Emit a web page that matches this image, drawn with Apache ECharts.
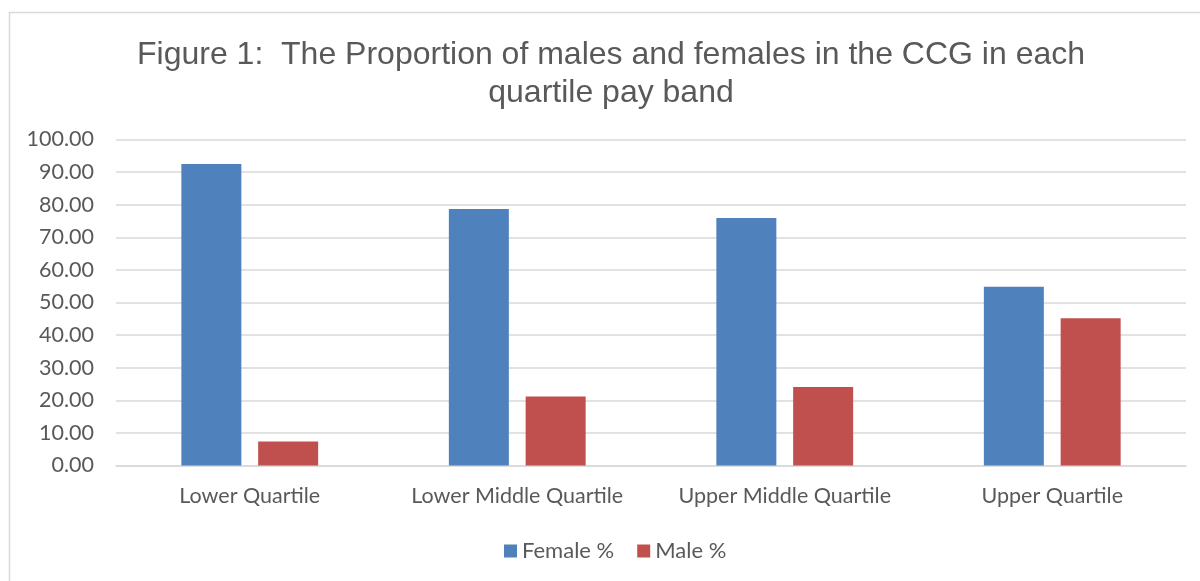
<!DOCTYPE html>
<html>
<head>
<meta charset="utf-8">
<script src="https://cdn.jsdelivr.net/npm/echarts@6/dist/echarts.min.js"></script>
<style>
  html, body { margin: 0; padding: 0; background: #fff; }
  #chart { width: 1200px; height: 581px; }
</style>
</head>
<body>
<div id="chart"></div>
<script>
const categories = ['Lower Quartile', 'Lower Middle Quartile', 'Upper Middle Quartile', 'Upper Quartile'];
const femaleValues = [92.5, 78.7, 75.9, 54.8];
const maleValues = [7.4, 21.2, 24.1, 45.2];
const yTicks = { min: 0, max: 100, interval: 10 };

const chart = echarts.init(document.getElementById('chart'));

const option = {
  backgroundColor: '#ffffff',
  animation: false,
  graphic: [
    {
      type: 'rect',
      shape: { x: 9.5, y: 12.5, width: 1200, height: 600 },
      style: { fill: 'none', stroke: '#d9d9d9', lineWidth: 1.5 },
      silent: true,
    },
  ],
  title: {
    text: 'Figure 1:  The Proportion of males and females in the CCG in each\nquartile pay band',
    left: 606,
    textAlign: 'center',
    top: 31,
    textStyle: {
      fontFamily: 'Liberation Sans',
      fontSize: 32,
      fontWeight: 'normal',
      color: '#595959',
      lineHeight: 38,
    },
  },
  legend: {
    data: ['Female %', 'Male %'],
    bottom: 14,
    left: 499,
    itemWidth: 13,
    itemHeight: 13,
    itemGap: 23,
    icon: 'rect',
    textStyle: {
      fontFamily: 'Lato',
      fontSize: 22,
      color: '#595959',
    },
  },
  grid: {
    left: 116,
    right: 14,
    top: 139.5,
    bottom: 115.5,
    containLabel: false,
  },
  xAxis: {
    type: 'category',
    data: categories,
    axisLine: { lineStyle: { color: '#d9d9d9', width: 1.5 } },
    axisTick: { show: false },
    axisLabel: {
      interval: 0,
      fontFamily: 'Lato',
      fontSize: 21.5,
      color: '#595959',
      margin: 20,
    },
  },
  yAxis: {
    type: 'value',
    min: yTicks.min,
    max: yTicks.max,
    interval: yTicks.interval,
    axisLine: { show: false },
    axisTick: { show: false },
    axisLabel: {
      fontFamily: 'Lato',
      fontSize: 21.5,
      color: '#595959',
      margin: 22,
      formatter: (v) => v.toFixed(2),
    },
    splitLine: { lineStyle: { color: '#d9d9d9', width: 1.5 } },
  },
  series: [
    {
      name: 'Female %',
      type: 'bar',
      data: femaleValues,
      barWidth: 60,
      barGap: '28%',
      itemStyle: { color: '#4f81bd' },
    },
    {
      name: 'Male %',
      type: 'bar',
      data: maleValues,
      barWidth: 60,
      itemStyle: { color: '#c0504d' },
    },
  ],
};

chart.setOption(option);
</script>
</body>
</html>
